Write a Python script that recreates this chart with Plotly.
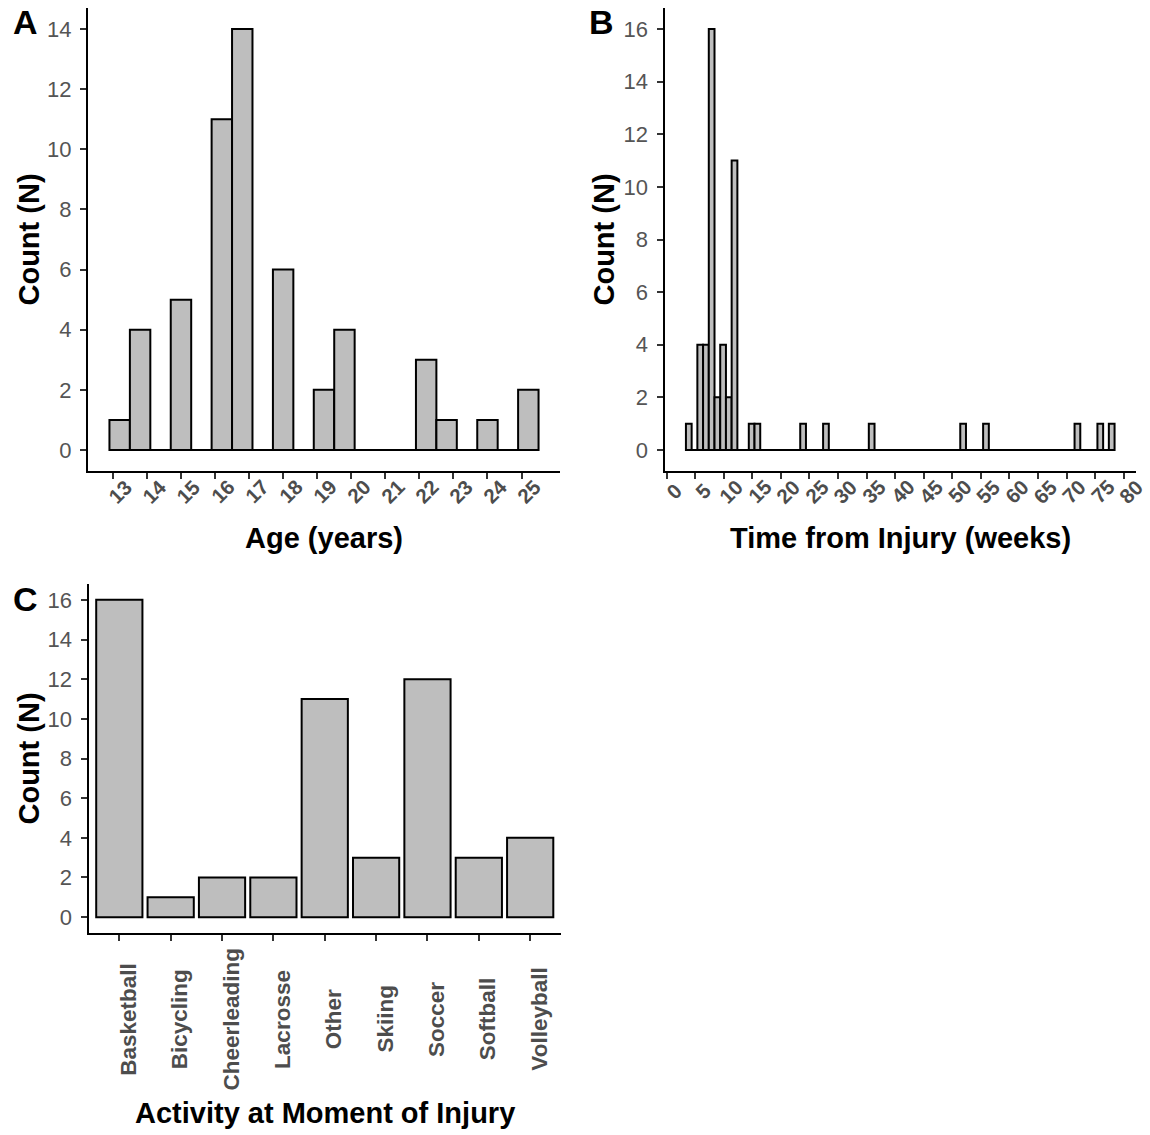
import plotly.graph_objects as go

W, H = 1150, 1135
FONT = "Liberation Sans, Arial, sans-serif"
GREY_TXT = "#4d4d4d"
FILL = "#BEBEBE"

# ---------------- Panel A : age histogram ----------------
age_bin_centers = [13.2, 13.8, 14.4, 15.0, 15.6, 16.2, 16.8, 17.4, 18.0, 18.6, 19.2,
                   19.8, 20.4, 21.0, 21.6, 22.2, 22.8, 23.4, 24.0, 24.6, 25.2]
age_counts = [1, 4, 0, 5, 0, 11, 14, 0, 6, 0, 2, 4, 0, 0, 0, 3, 1, 0, 1, 0, 2]
age_bin_width = 0.6
age_ticks = [13, 14, 15, 16, 17, 18, 19, 20, 21, 22, 23, 24, 25]
age_tick_labels = ["13", "14", "15", "16", "17", "18", "19", "20", "21", "22", "23", "24", "25"]
count_ticks_a = [0, 2, 4, 6, 8, 10, 12, 14]

# ---------------- Panel B : weeks histogram ----------------
week_bin_centers = [3.9, 5.9, 6.9, 7.9, 8.9, 9.9, 10.9, 11.9, 14.9, 15.9,
                    23.9, 27.9, 35.9, 51.9, 55.9, 71.9, 75.9, 77.9]
week_counts = [1, 4, 4, 16, 2, 4, 2, 11, 1, 1, 1, 1, 1, 1, 1, 1, 1, 1]
week_bin_width = 1.0
week_ticks = [0, 5, 10, 15, 20, 25, 30, 35, 40, 45, 50, 55, 60, 65, 70, 75, 80]
week_tick_labels = ["0", "5", "10", "15", "20", "25", "30", "35", "40", "45",
                    "50", "55", "60", "65", "70", "75", "80"]
count_ticks_b = [0, 2, 4, 6, 8, 10, 12, 14, 16]

# ---------------- Panel C : activity bar chart ----------------
activities = ["Basketball", "Bicycling", "Cheerleading", "Lacrosse", "Other",
              "Skiing", "Soccer", "Softball", "Volleyball"]
activity_counts = [16, 1, 2, 2, 11, 3, 12, 3, 4]
count_ticks_c = [0, 2, 4, 6, 8, 10, 12, 14, 16]


def px_x(p):
    return p / W


def px_y(p):
    return 1 - p / H


bar_style = dict(color=FILL, line=dict(color="black", width=2))

fig = go.Figure()

# Panel A
fig.add_trace(go.Scatter(
    x=[age_bin_centers[0] - age_bin_width / 2, age_bin_centers[-1] + age_bin_width / 2],
    y=[0, 0], mode="lines", line=dict(color="black", width=2),
    xaxis="x", yaxis="y", hoverinfo="skip"))
fig.add_trace(go.Bar(x=age_bin_centers, y=age_counts, width=age_bin_width,
                     marker=bar_style, xaxis="x", yaxis="y"))

# Panel B
fig.add_trace(go.Scatter(
    x=[week_bin_centers[0] - week_bin_width / 2, week_bin_centers[-1] + week_bin_width / 2],
    y=[0, 0], mode="lines", line=dict(color="black", width=2),
    xaxis="x2", yaxis="y2", hoverinfo="skip"))
fig.add_trace(go.Bar(x=week_bin_centers, y=week_counts, width=week_bin_width,
                     marker=bar_style, xaxis="x2", yaxis="y2"))

# Panel C
fig.add_trace(go.Bar(x=activities, y=activity_counts, width=0.9,
                     marker=bar_style, xaxis="x3", yaxis="y3"))

axis_common = dict(showline=True, linecolor="black", linewidth=2, showgrid=False,
                   zeroline=False, ticks="outside", ticklen=6, tickwidth=2,
                   tickcolor="#333333")
ytick_font = dict(family=FONT, size=22, color="#555555")

dom_top = [px_y(471), px_y(8)]
dom_c = [px_y(933), px_y(584)]

fig.update_layout(
    width=W, height=H,
    margin=dict(l=0, r=0, t=0, b=0),
    paper_bgcolor="white", plot_bgcolor="white",
    showlegend=False,
    font=dict(family=FONT),
    xaxis=dict(domain=[px_x(88), px_x(560)], range=[12.27, 26.13],
               tickvals=age_ticks, showticklabels=False, anchor="y", **axis_common),
    yaxis=dict(domain=dom_top, range=[-0.7, 14.7], tickvals=count_ticks_a,
               tickfont=ytick_font, anchor="x", ticklabelstandoff=4, **axis_common),
    xaxis2=dict(domain=[px_x(664.5), px_x(1136)], range=[-0.35, 82.15],
                tickvals=week_ticks, showticklabels=False, anchor="y2", **axis_common),
    yaxis2=dict(domain=dom_top, range=[-0.8, 16.8], tickvals=count_ticks_b,
                tickfont=ytick_font, anchor="x2", ticklabelstandoff=4, **axis_common),
    xaxis3=dict(domain=[px_x(88.5), px_x(561)], range=[-0.6, 8.6], type="category",
                categoryorder="array", categoryarray=activities,
                showticklabels=False, anchor="y3", **axis_common),
    yaxis3=dict(domain=dom_c, range=[-0.8, 16.8], tickvals=count_ticks_c,
                tickfont=ytick_font, anchor="x3", ticklabelstandoff=4, **axis_common),
)

ann = []
num_font = dict(family=FONT, size=20.5, color=GREY_TXT, weight="bold")
for t, lab in zip(age_ticks, age_tick_labels):
    ann.append(dict(x=t, xref="x", y=px_y(491), yref="paper", text=lab, textangle=-45,
                    xanchor="center", yanchor="middle", xshift=7, showarrow=False,
                    font=num_font))
for t, lab in zip(week_ticks, week_tick_labels):
    ann.append(dict(x=t, xref="x2", y=px_y(491), yref="paper", text=lab, textangle=-45,
                    xanchor="center", yanchor="middle", xshift=7, showarrow=False,
                    font=num_font))
cat_font = dict(family=FONT, size=22.5, color=GREY_TXT, weight="bold")
for a in activities:
    ann.append(dict(x=a, xref="x3", y=px_y(1019), yref="paper", text=a, textangle=-90,
                    xanchor="center", yanchor="middle", xshift=8.5, showarrow=False,
                    font=cat_font))

title_font = dict(family=FONT, size=29, color="black", weight="bold")
ann += [
    dict(x=px_x(324), y=px_y(538), text="Age (years)"),
    dict(x=px_x(900), y=px_y(538), text="Time from Injury (weeks)"),
    dict(x=px_x(325), y=px_y(1113), text="Activity at Moment of Injury"),
    dict(x=px_x(28), y=px_y(239.5), text="Count (N)", textangle=-90),
    dict(x=px_x(603), y=px_y(239.5), text="Count (N)", textangle=-90),
    dict(x=px_x(28), y=px_y(758.5), text="Count (N)", textangle=-90),
]
for a in ann[-6:]:
    a.update(xref="paper", yref="paper", xanchor="center", yanchor="middle",
             showarrow=False, font=title_font)

letter_font = dict(family=FONT, size=34, color="black", weight="bold")
for txt, x, y in [("A", 25.5, 22), ("B", 601.5, 22), ("C", 25, 598.5)]:
    ann.append(dict(x=px_x(x), y=px_y(y), xref="paper", yref="paper", text=txt,
                    xanchor="center", yanchor="middle", showarrow=False, font=letter_font))

fig.update_layout(annotations=ann)

fig.write_html("out.html")
